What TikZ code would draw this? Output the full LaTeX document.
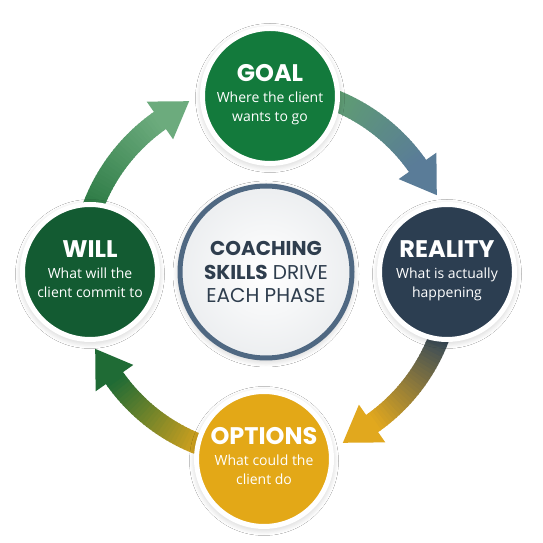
\documentclass[tikz,border=0pt]{standalone}
\usepackage{fontspec}
\usetikzlibrary{calc}
\usetikzlibrary{shadows.blur}
\newfontfamily\headfont{Poppins}
\newfontfamily\bodyfont{Open Sans}

\definecolor{goalgreen}{HTML}{137A3C}
\definecolor{willgreen}{HTML}{135B32}
\definecolor{realnavy}{HTML}{2C3E51}
\definecolor{optgold}{HTML}{E3A817}
\definecolor{hubblue}{HTML}{4F6882}
\definecolor{hubgray}{HTML}{ECEEF0}
\definecolor{hubtext}{HTML}{2F3E4E}
% arrow ramps
\definecolor{gr-a}{HTML}{5F9F70}
\definecolor{gr-b}{HTML}{5A7C98}
\definecolor{rl-a}{HTML}{34485A}
\definecolor{rl-b}{HTML}{E1A81E}
\definecolor{op-a}{HTML}{D8A31D}
\definecolor{op-b}{HTML}{1F6B35}
\definecolor{wl-a}{HTML}{2D7B45}
\definecolor{wl-b}{HTML}{6CAB7D}

\tikzset{
	phase/.style={circle, minimum size=135pt, inner sep=0pt, draw=white, line width=5pt,
		blur shadow={shadow blur steps=12, shadow xshift=0pt, shadow yshift=-2pt, shadow blur radius=7pt, shadow opacity=25}},
	title/.style={anchor=base, inner sep=0pt, text=white, font=\headfont\bfseries\fontsize{24}{26}\selectfont},
	blurb/.style={anchor=north, inner sep=0pt, align=center, text=white, font=\bodyfont\fontsize{14}{18.5}\selectfont},
	hubring/.style={circle, minimum size=172pt, inner sep=0pt, draw=hubblue, line width=5pt,
		inner color=white, outer color=hubgray, text=hubtext, align=center,
		font=\headfont\fontsize{20}{23.5}\selectfont,
		blur shadow={shadow blur steps=12, shadow xshift=0pt, shadow yshift=-2pt, shadow blur radius=7pt, shadow opacity=25}}
}

\newcommand{\cyclearrow}[3] % middle angle in deg, colour at start, colour at tip
{
	% shaft, cut in short pieces to get a colour ramp
	\foreach \k in {0,...,29}
	{
		\pgfmathtruncatemacro{\mix}{100-\k*100/29}
		\pgfmathsetmacro{\from}{#1+25-\k*35/30}
		\pgfmathsetmacro{\to}{\from-35/30-0.4}
		\draw[line width=21pt, color=#2!\mix!#3] ($(hub)+(\from:185)$) arc[start angle=\from, end angle=\to, radius=185pt];
	}
	% head
	\begin{scope}[shift={(hub)}, rotate=#1-10]
		\fill[#3] (162,0) -- (208,0) -- (184,-35) -- cycle;
	\end{scope}
}

\begin{document}
\begin{tikzpicture}[x=1pt, y=1pt]
	% 543 x 543 px, 1px = 1pt
	\useasboundingbox (0,0) rectangle (543,543);
	\fill[white] (0,0) rectangle (543,543);

	% centre
	\node[hubring] (hub) at (266,271) {\textbf{COACHING}\\\textbf{SKILLS} DRIVE\\EACH PHASE};

	% arrows round the cycle
	\cyclearrow{45}{gr-a}{gr-b};
	\cyclearrow{-45}{rl-a}{rl-b};
	\cyclearrow{-135}{op-a}{op-b};
	\cyclearrow{135}{wl-a}{wl-b};

	% phases
	\node[phase, fill=goalgreen] (goal) at (270,447) {};
	\node[phase, fill=realnavy] (reality) at (447,271) {};
	\node[phase, fill=optgold] (options) at (264,84) {};
	\node[phase, fill=willgreen] (will) at (90,271) {};

	\node[title] (goal-t) at ([yshift=14pt]goal.center) {GOAL};
	\node[blurb] (goal-b) at ([yshift=4pt]goal.center) {Where the client\\wants to go};
	\node[title] (reality-t) at ([yshift=14pt]reality.center) {REALITY};
	\node[blurb] (reality-b) at ([yshift=4pt]reality.center) {What is actually\\happening};
	\node[title] (options-t) at ([yshift=14pt]options.center) {OPTIONS};
	\node[blurb] (options-b) at ([yshift=4pt]options.center) {What could the\\client do};
	\node[title] (will-t) at ([yshift=14pt]will.center) {WILL};
	\node[blurb] (will-b) at ([yshift=4pt]will.center) {What will the\\client commit to};
\end{tikzpicture}
\end{document}
